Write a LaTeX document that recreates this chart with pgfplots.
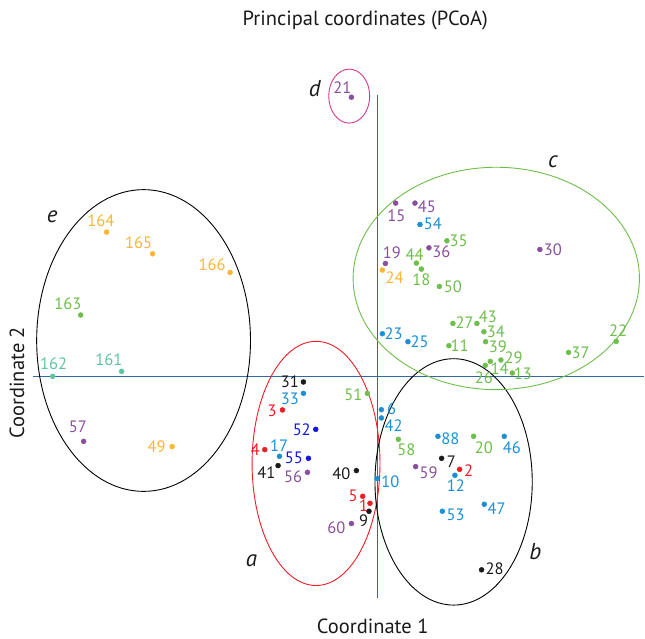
\documentclass[border=0pt]{standalone}
\usepackage{pgfplots}
\pgfplotsset{compat=1.18}
\usepackage{pgfplotstable}
\usepackage{fontspec}
\setmainfont{PT Sans}
\definecolor{cblack}{HTML}{1A1A1A}
\definecolor{cred}{HTML}{EE1C25}
\definecolor{cdblue}{HTML}{1414E6}
\definecolor{ccyan}{HTML}{1A8FD6}
\definecolor{cpurple}{HTML}{8A4E9E}
\definecolor{cgreen}{HTML}{6DBE4B}
\definecolor{cyellow}{HTML}{FBB632}
\definecolor{cteal}{HTML}{5EC4A0}
\definecolor{caxis}{HTML}{3268A3}
\definecolor{cmag}{HTML}{D63A8E}

\pgfplotstableread{
x y lx ly label
303.7 382.3 290 382.3 31
278.3 466 266.7 472.7 41
356.7 471 341.7 474 40
369.3 511.7 364 521.3 9
442 458.7 451.7 461.7 7
482 570.3 495 569.7 28
}\blackdata
\pgfplotstableread{
x y lx ly label
282.7 410.3 272.3 411 3
265 450 255.7 450 4
363 496.7 353.3 496 5
370.3 503.7 364 505.7 1
460 469.7 469 471 2
}\reddata
\pgfplotstableread{
x y lx ly label
316 429.7 302 430.3 52
308.7 458.7 294 458.7 55
}\dbluedata
\pgfplotstableread{
x y lx ly label
303.7 393.7 290 399.3 33
279.7 456.7 279.3 445.7 17
377.5 479 390.7 482.2 10
381.7 410 392 409.5 6
381.7 418.3 394 426 42
438.3 436.7 450.7 439.3 88
504.7 436.7 512.3 448.3 46
455.3 475.7 456.3 486 12
484.7 504.7 497 509 47
442.7 511.7 456 515.7 53
420.3 224.7 433.3 224.3 54
382.7 334 394 334 23
408.3 342 420 342 25
}\cyandata
\pgfplotstableread{
x y lx ly label
307.7 472.7 293.3 477.3 56
351.7 524 336.7 527.7 60
416 467 429 472.7 59
396 203.3 396.7 216 15
415.3 203.3 427.3 206.7 45
429.3 248 441.7 251.7 36
540.3 249.7 553.3 249.7 30
385.7 263.7 392.3 253.3 19
83.7 441.7 78 426.7 57
351.7 97.3 342.7 87.3 21
}\purpledata
\pgfplotstableread{
x y lx ly label
367.7 393.7 353.7 394.7 51
398.7 439.7 406.7 450.3 58
474 436.7 484.3 447.7 20
447.3 241 459 241 35
416.7 263.3 415 255 44
421.7 269.3 421.7 280 18
439.7 286.7 453.3 286.7 50
453.3 323.7 465 323.3 27
477.3 323.7 488.3 317.5 43
484.3 332 496.3 332.3 34
449.3 346 460 346 11
486 342 498.3 347.3 39
616.7 341.7 618.7 330.7 22
569 352.7 581 352.7 37
501.3 360.3 514 358 29
490.7 361.7 500 369.3 14
485.7 365.7 484.3 378.3 26
512.7 373.3 523.3 374.3 13
80.7 315.3 68 304 163
}\greendata
\pgfplotstableread{
x y lx ly label
106.7 232.3 101 220.7 164
152.7 254 138.7 243.3 165
230.3 272.7 212.3 265 166
172.3 447 156.7 447.3 49
382.7 270.3 395 278.3 24
}\yellowdata
\pgfplotstableread{
x y lx ly label
52.7 376.7 53.7 364 162
121.7 371.7 109 360 161
}\tealdata

\pgfplotsset{
  pts/.style={only marks, mark=*, mark size=2.5pt, color=#1},
  lbl/.style={only marks, mark=text, text mark={},
    nodes near coords, point meta=explicit symbolic,
    every node near coord/.style={anchor=center, inner sep=0pt, text=#1,
      font=\fontsize{16.5}{16.5}\selectfont}},
}
\newcommand\grp[2]{%
  \addplot[pts=#2] table[x=x,y=y] #1;
  \addplot[lbl=#2] table[x=lx,y=ly,meta=label] #1;
}

\begin{document}
\begin{tikzpicture}
\begin{axis}[
  width=645pt, height=639pt, scale only axis,
  xmin=0, xmax=645, ymin=0, ymax=639, y dir=reverse,
  hide axis, clip=false,
]
\path (rel axis cs:0,0) rectangle (rel axis cs:1,1);
% cross lines
\addplot[caxis, line width=1.1pt] coordinates {(33,376.7) (645,376.7)};
\addplot[caxis, line width=1.1pt] coordinates {(377.5,95) (377.5,598.3)};
% ellipses
\draw[black, line width=0.9pt] (axis cs:143.7,340.8) ellipse [x radius=107pt, y radius=151pt];
\draw[cred, line width=0.9pt] (axis cs:316.3,463.8) ellipse [x radius=64pt, y radius=122.2pt];
\draw[black, line width=0.9pt] (axis cs:454,482.3) ellipse [x radius=78.7pt, y radius=123.3pt];
\draw[cgreen, line width=0.9pt] (axis cs:496.7,278.7) ellipse [x radius=143.3pt, y radius=111.3pt];
\draw[cmag, line width=0.9pt] (axis cs:349.5,96.2) ellipse [x radius=20.5pt, y radius=27pt];
% points
\grp{\blackdata}{cblack}
\grp{\reddata}{cred}
\grp{\dbluedata}{cdblue}
\grp{\cyandata}{ccyan}
\grp{\purpledata}{cpurple}
\grp{\greendata}{cgreen}
\grp{\yellowdata}{cyellow}
\grp{\tealdata}{cteal}
% group letters
\node[font=\fontsize{23}{23}\selectfont\itshape, text=cblack] at (axis cs:52.3,216.7) {e};
\node[font=\fontsize{23}{23}\selectfont\itshape, text=cblack] at (axis cs:251.7,561.7) {a};
\node[font=\fontsize{23}{23}\selectfont\itshape, text=cblack] at (axis cs:535.7,551.7) {b};
\node[font=\fontsize{23}{23}\selectfont\itshape, text=cblack] at (axis cs:553.3,162.3) {c};
\node[font=\fontsize{23}{23}\selectfont\itshape, text=cblack] at (axis cs:315,88.3) {d};
% titles
\node[inner sep=0pt, font=\fontsize{20.5}{20.5}\selectfont, text=cblack] at (axis cs:365.5,20) {Principal coordinates (PCoA)};
\node[inner sep=0pt, font=\fontsize{20.5}{20.5}\selectfont, text=cblack] at (axis cs:373,626.5) {Coordinate 1};
\node[inner sep=0pt, font=\fontsize{20.5}{20.5}\selectfont, text=cblack, rotate=90] at (axis cs:17,383) {Coordinate 2};
\end{axis}
\end{tikzpicture}
\end{document}
